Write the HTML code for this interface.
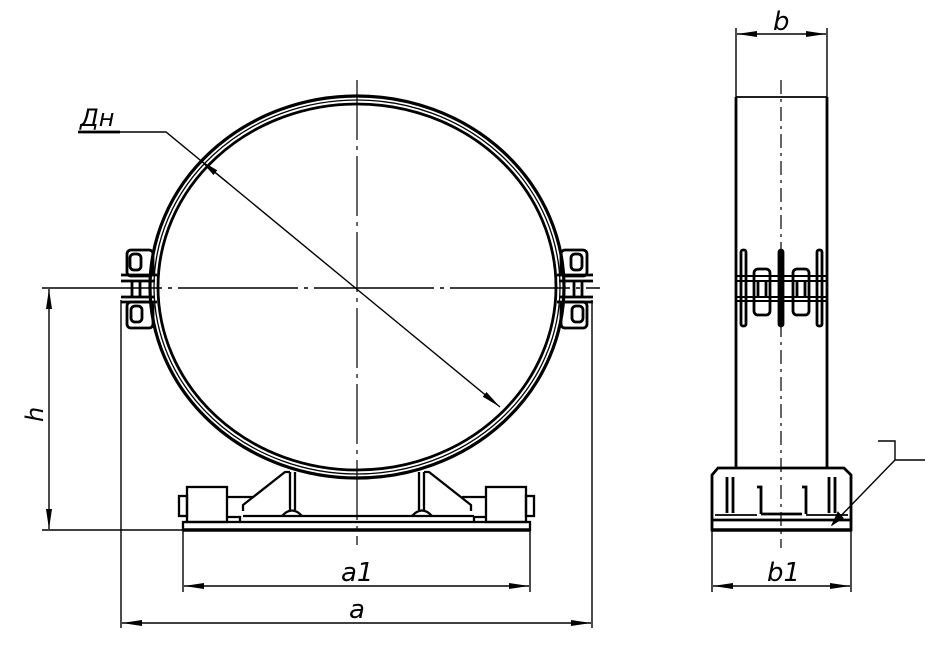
<!DOCTYPE html>
<html><head><meta charset="utf-8"><style>
html,body{margin:0;padding:0;background:#fff;}
svg{display:block}
text{font-family:"DejaVu Sans","Liberation Sans",sans-serif;font-style:oblique;fill:#000}
</style></head><body>
<svg width="952" height="646" viewBox="0 0 952 646" xmlns="http://www.w3.org/2000/svg" fill="none" stroke="#000">
<defs>
<marker id="ar" viewBox="0 0 20 8" refX="20" refY="4" markerWidth="20" markerHeight="8" orient="auto-start-reverse" markerUnits="userSpaceOnUse"><path d="M0,1 L20,4 L0,7 Z" fill="#000" stroke="none"/></marker>
</defs>
<!-- ===== FRONT VIEW ===== -->
<ellipse cx="357" cy="287" rx="207" ry="191" stroke-width="3.2"/>
<ellipse cx="357" cy="287" rx="203" ry="187" stroke-width="1.3"/>
<ellipse cx="357" cy="287" rx="199" ry="183" stroke-width="2.8"/>
<line x1="357" y1="80" x2="357" y2="545" stroke-width="1.2" stroke-dasharray="60,6,4,6"/>
<line x1="42" y1="288" x2="600" y2="288" stroke-width="1.5" stroke-dasharray="120,6,4,6"/>
<!-- left clamp -->
<g stroke-width="2.8">
<rect x="127" y="250" width="26" height="26" rx="4"/>
<rect x="130" y="254" width="11" height="16" rx="4"/>
<path d="M121,275 H157 M121,281 H155"/>
<path d="M121,297 H155 M121,302 H157"/>
<rect x="127" y="302" width="26" height="26" rx="4"/>
<rect x="131" y="306" width="11" height="16" rx="4"/>
<path d="M132,281 V297 M140,281 V297"/>
</g>
<!-- right clamp -->
<g stroke-width="2.8">
<rect x="561" y="250" width="26" height="26" rx="4"/>
<rect x="571" y="254" width="11" height="16" rx="4"/>
<path d="M557,275 H593 M559,281 H593"/>
<path d="M559,297 H593 M557,302 H593"/>
<rect x="561" y="302" width="26" height="26" rx="4"/>
<rect x="572" y="306" width="11" height="16" rx="4"/>
<path d="M574,281 V297 M582,281 V297"/>
</g>
<!-- base -->
<g stroke-width="2.3">
<rect x="183" y="522" width="347" height="8"/>
<line x1="183" y1="530" x2="530" y2="530" stroke-width="3.5"/>
<rect x="187" y="487" width="40" height="35"/>
<rect x="179" y="496" width="8" height="20"/>
<rect x="486" y="487" width="40" height="35"/>
<rect x="526" y="496" width="8" height="20"/>
<path d="M227,497 H253 M227,517 H240 V522"/>
<path d="M486,497 H462 M486,517 H474 V522"/>
<path d="M243,516 H474"/>
<path d="M243,511 L243,505 L285,472 L290,472"/>
<path d="M471,511 L471,505 L429,472 L424,472"/>
<path d="M290,472 V510 M295,472 V510"/>
<path d="M419,472 V510 M424,472 V510"/>
<path d="M282,516 Q292,505 302,516 M412,516 Q422,505 432,516"/>
</g>
<!-- Dн -->
<path d="M78,132 H166 L500,407" stroke-width="1.4" marker-end="url(#ar)"/>
<line x1="200" y1="160" x2="228" y2="183" stroke-width="1.4" marker-start="url(#ar)"/>
<line x1="78" y1="132" x2="120" y2="132" stroke-width="2.8"/>
<text x="80" y="126" font-size="24" stroke="none">Дн</text>
<!-- h -->
<line x1="42" y1="530" x2="183" y2="530" stroke-width="1.4"/>
<line x1="49" y1="289" x2="49" y2="529" stroke-width="1.4" marker-start="url(#ar)" marker-end="url(#ar)"/>
<text x="0" y="0" font-size="24" stroke="none" transform="translate(43,422) rotate(-90)">h</text>
<!-- a / a1 -->
<line x1="121" y1="300" x2="121" y2="628" stroke-width="1.4"/>
<line x1="592" y1="300" x2="592" y2="628" stroke-width="1.4"/>
<line x1="183" y1="530" x2="183" y2="592" stroke-width="1.4"/>
<line x1="530" y1="530" x2="530" y2="592" stroke-width="1.4"/>
<line x1="184" y1="586" x2="529" y2="586" stroke-width="1.4" marker-start="url(#ar)" marker-end="url(#ar)"/>
<line x1="122" y1="623" x2="591" y2="623" stroke-width="1.4" marker-start="url(#ar)" marker-end="url(#ar)"/>
<text x="341" y="581" font-size="26" stroke="none">a1</text>
<text x="349" y="618" font-size="26" stroke="none">a</text>
<!-- ===== SIDE VIEW ===== -->
<line x1="736" y1="97" x2="736" y2="468" stroke-width="2.8"/>
<line x1="827" y1="97" x2="827" y2="468" stroke-width="2.8"/>
<line x1="736" y1="97" x2="827" y2="97" stroke-width="1.8"/>
<line x1="781" y1="80" x2="781" y2="548" stroke-width="1.2" stroke-dasharray="14,5,3,5"/>
<g stroke-width="2.8">
<path d="M736,276 H827 M736,281 H827 M736,297 H827 M736,301 H827" stroke-width="2"/>
<rect x="741" y="250" width="5" height="76" rx="2"/>
<rect x="817" y="250" width="5" height="76" rx="2"/>
<rect x="779" y="250" width="4" height="76" rx="2" fill="#000"/>
<rect x="754" y="269" width="16" height="46" rx="4"/>
<rect x="793" y="269" width="16" height="46" rx="4"/>
<path d="M758,281 V297 M766,281 V297 M797,281 V297 M805,281 V297"/>
</g>
<g stroke-width="2.8">
<path d="M718,468 H844 L851,475 V530 H712 V475 Z"/>
<line x1="712" y1="520" x2="851" y2="520"/>
<line x1="712" y1="530" x2="851" y2="530" stroke-width="3.5"/>
<path d="M727,477 V513 M733,477 V513 M829,477 V513 M835,477 V513"/>
<path d="M757,487 H761 V514 M802,487 H806 V514 M761,514 H802"/>
<path d="M715,515 H757 M806,515 H848" stroke-width="1.8"/>
</g>
<path d="M878,441 H895 V460 H925 M895,460 L832,525" stroke-width="1.4"/>
<path d="M832,525 L838,512 L843,518 Z" fill="#000" stroke-width="1"/>
<!-- b -->
<line x1="736" y1="28" x2="736" y2="97" stroke-width="1.4"/>
<line x1="827" y1="28" x2="827" y2="97" stroke-width="1.4"/>
<line x1="737" y1="34" x2="826" y2="34" stroke-width="1.4" marker-start="url(#ar)" marker-end="url(#ar)"/>
<text x="773" y="30" font-size="26" stroke="none">b</text>
<!-- b1 -->
<line x1="712" y1="530" x2="712" y2="592" stroke-width="1.4"/>
<line x1="851" y1="530" x2="851" y2="592" stroke-width="1.4"/>
<line x1="713" y1="586" x2="850" y2="586" stroke-width="1.4" marker-start="url(#ar)" marker-end="url(#ar)"/>
<text x="767" y="581" font-size="26" stroke="none">b1</text>
</svg>
</body></html>
